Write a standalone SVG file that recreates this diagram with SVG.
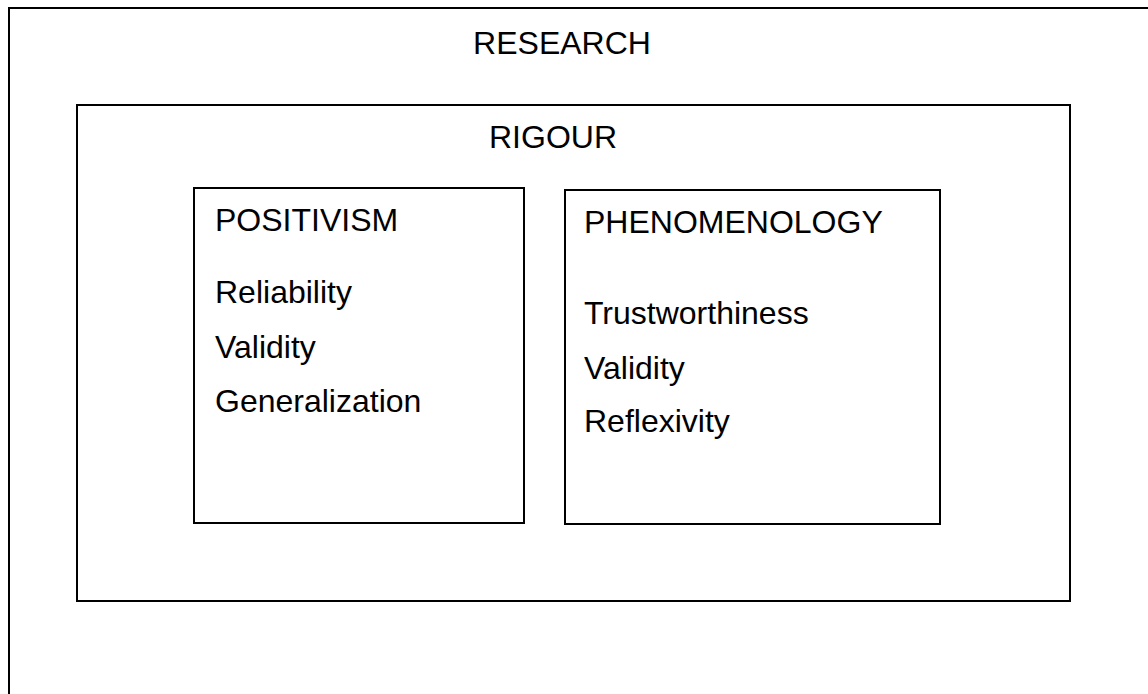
<svg xmlns="http://www.w3.org/2000/svg" width="1148" height="694" viewBox="0 0 1148 694">
<style>
.box{fill:none;stroke:#000;stroke-width:2}
.t{font-family:"Liberation Sans",Arial,sans-serif;font-size:32px;fill:#000}
</style>
<rect width="1148" height="694" fill="#fff"/>
<g id="research">
<rect class="box" x="9" y="8" width="1160" height="720"/>
<text class="t" x="562" y="54" text-anchor="middle">RESEARCH</text>
</g>
<g id="rigour">
<rect class="box" x="77" y="105" width="993" height="496"/>
<text class="t" x="553" y="148" text-anchor="middle">RIGOUR</text>
</g>
<g id="positivism">
<rect class="box" x="194" y="188" width="330" height="335"/>
<text class="t" x="215" y="231">POSITIVISM</text>
<text class="t" x="215" y="303">Reliability</text>
<text class="t" x="215" y="358">Validity</text>
<text class="t" x="215" y="412">Generalization</text>
</g>
<g id="phenomenology">
<rect class="box" x="565" y="190" width="375" height="334"/>
<text class="t" x="584" y="233">PHENOMENOLOGY</text>
<text class="t" x="584" y="324">Trustworthiness</text>
<text class="t" x="584" y="379">Validity</text>
<text class="t" x="584" y="432">Reflexivity</text>
</g>
<g id="connectors"></g>
</svg>
